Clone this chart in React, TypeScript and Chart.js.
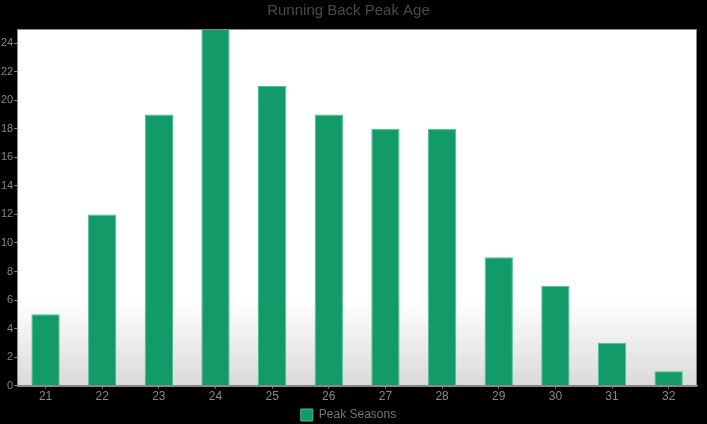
import React, { useEffect, useRef } from "react";
import { Chart, registerables } from "chart.js";

Chart.register(...registerables);

const categories = ["21", "22", "23", "24", "25", "26", "27", "28", "29", "30", "31", "32"];
const peakSeasons = [5, 12, 19, 25, 21, 19, 18, 18, 9, 7, 3, 1];
const yTicks = [0, 2, 4, 6, 8, 10, 12, 14, 16, 18, 20, 22, 24];
const seriesLabel = "Peak Seasons";
const titleText = "Running Back Peak Age";

const FONT = "'Liberation Sans Narrow', 'Arial Narrow', 'Liberation Sans', sans-serif";

const plotBg = {
  id: "plotBg",
  beforeDraw(chart: any) {
    const { ctx, chartArea } = chart;
    if (!chartArea) return;
    const { left, top, right, bottom } = chartArea;
    ctx.save();
    const g = ctx.createLinearGradient(0, top, 0, bottom);
    g.addColorStop(0, "#ffffff");
    g.addColorStop(0.76, "#ffffff");
    g.addColorStop(1, "#dadada");
    ctx.fillStyle = g;
    ctx.fillRect(left, top, right - left, bottom - top);
    ctx.restore();
  },
  afterDraw(chart: any) {
    const { ctx, chartArea } = chart;
    const { left, top, right, bottom } = chartArea;
    ctx.save();
    ctx.strokeStyle = "#8a8a8a";
    ctx.lineWidth = 1;
    ctx.strokeRect(Math.round(left) + 0.5, Math.round(top) + 0.5, Math.round(right - left) - 1, Math.round(bottom - top));
    ctx.restore();
  },
};

export default function App() {
  const ref = useRef<HTMLCanvasElement>(null);
  useEffect(() => {
    document.body.style.margin = "0";
    document.body.style.background = "#000";
    const chart = new Chart(ref.current!, {
      type: "bar",
      data: {
        labels: categories,
        datasets: [
          {
            label: seriesLabel,
            data: peakSeasons,
            backgroundColor: "#129b69",
            borderColor: "#4cbf93",
            borderWidth: 1,
            categoryPercentage: 1,
            barPercentage: 0.5,
          },
        ],
      },
      options: {
        animation: false,
        responsive: false,
        layout: { padding: { left: 0, right: 10, top: 0, bottom: -7 } },
        plugins: {
          title: {
            display: true,
            text: titleText,
            color: "#4a4a4a",
            font: { family: FONT, size: 15, weight: "normal" },
            padding: { top: 2, bottom: 9 },
          },
          legend: {
            position: "bottom",
            labels: {
              color: "#777",
              font: { family: FONT, size: 12 },
              boxWidth: 12,
              boxHeight: 12,
              padding: 4,
            },
          },
          tooltip: { enabled: false },
        },
        scales: {
          x: {
            grid: { display: true, drawOnChartArea: false, offset: false, tickLength: 3, color: "#888" },
            border: { color: "#888" },
            ticks: { color: "#888", font: { family: FONT, size: 12 }, padding: 1 },
          },
          y: {
            min: 0,
            max: 25,
            afterBuildTicks: (axis: any) => {
              axis.ticks = yTicks.map((v) => ({ value: v }));
            },
            grid: { display: true, drawOnChartArea: false, tickLength: 3, color: "#888" },
            border: { color: "#888" },
            ticks: { color: "#888", font: { family: FONT, size: 11 }, padding: 1 },
          },
        },
      },
      plugins: [plotBg],
    });
    return () => chart.destroy();
  }, []);
  return <canvas ref={ref} width={707} height={424} style={{ display: "block" }} />;
}
